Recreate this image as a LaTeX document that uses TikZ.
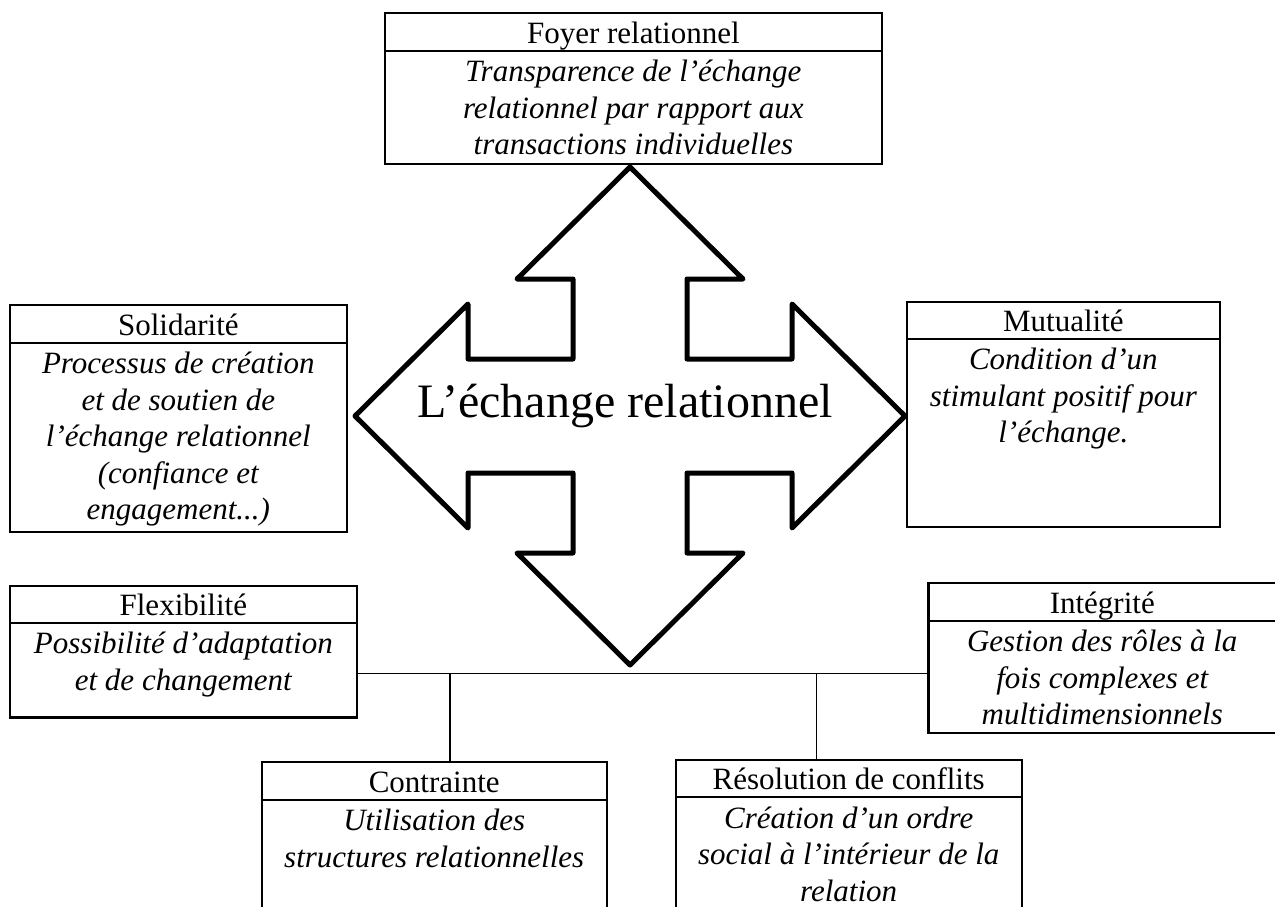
\documentclass[tikz,border=0pt]{standalone}
\usepackage{fontspec}
\setmainfont{Liberation Serif}

% #1 name, #2 x, #3 top, #4 width, #5 head height, #6 body height, #7 title, #8 body
\newcommand\infobox[8]{%
  \node[frame, headtext, minimum width=#4pt, minimum height=#5pt] (#1-head) at (#2,#3) {#7};
  \node[frame, minimum width=#4pt, minimum height=#6pt] (#1) at (#1-head.south west) {};
  \node[bodytext] (#1-text) at (#1.north) {\rule{0pt}{24pt}#8};
}

\begin{document}
\begin{tikzpicture}[x=1pt,y=-1pt,
  frame/.style={draw=black, line width=2.3pt, inner sep=0pt, outer sep=0pt, anchor=north west},
  headtext/.style={font=\fontsize{31}{36.5}\selectfont, text height=24pt, text depth=1.5pt},
  bodytext/.style={font=\fontsize{31}{36.5}\selectfont\itshape, align=center, inner sep=0pt,
                   anchor=north, yshift=-6.7pt},
  link/.style={draw=black, line width=1.6pt},
  bigarrow/.style={draw=black, line width=5pt, line join=round}]

\useasboundingbox (0,0) rectangle (1275,906);
\clip (0,0) rectangle (1275,906);

% the four-way arrow
\draw[bigarrow]
  (630,167) -- (743,279) -- (687,279) -- (687,359) -- (792,359) -- (792,304)
  -- (905,416) -- (792,528) -- (792,473) -- (687,473) -- (687,553) -- (743,553)
  -- (630,665) -- (517,553) -- (573,553) -- (573,473) -- (468,473) -- (468,528)
  -- (355,416) -- (468,304) -- (468,359) -- (573,359) -- (573,279) -- (517,279) -- cycle;
\node[font=\fontsize{48}{56}\selectfont, anchor=base, inner sep=0pt] (core) at (625,417.5)
  {L’échange relationnel};

% the seven dimensions
\infobox{foyer}{385}{13.3}{496.7}{37.4}{113.3}{Foyer relationnel}
  {Transparence de l’échange\\relationnel par rapport aux\\transactions individuelles}
\infobox{solid}{10}{305}{336.7}{37.7}{189}{Solidarité}
  {Processus de création\\et de soutien de\\l’échange relationnel\\(confiance et\\engagement...)}
\infobox{mutual}{906.7}{301.7}{313.3}{37.3}{187.7}{Mutualité}
  {Condition d’un\\stimulant positif pour\\l’échange.}
\infobox{flex}{10}{585.7}{346.7}{37}{94.8}{Flexibilité}
  {Possibilité d’adaptation\\et de changement}
\infobox{integ}{928.5}{583.3}{347.5}{37.7}{112.3}{Intégrité}
  {Gestion des rôles à la\\fois complexes et\\multidimensionnels}
\infobox{contr}{261.7}{762.3}{345}{37.7}{170}{Contrainte}
  {Utilisation des\\structures relationnelles}
\infobox{resol}{675.7}{760}{346}{37.3}{170}{Résolution de conflits}
  {Création d’un ordre\\social à l’intérieur de la\\relation}

% connecting bar
\coordinate (bar) at (0,673.3);
\coordinate (j1) at (450,673.3);
\coordinate (j2) at (816.5,673.3);
\draw[link] (flex.east |- bar) -- (integ.west |- bar);
\draw[link] (j1) -- (j1 |- contr-head.north);
\draw[link] (j2) -- (j2 |- resol-head.north);
\end{tikzpicture}
\end{document}
